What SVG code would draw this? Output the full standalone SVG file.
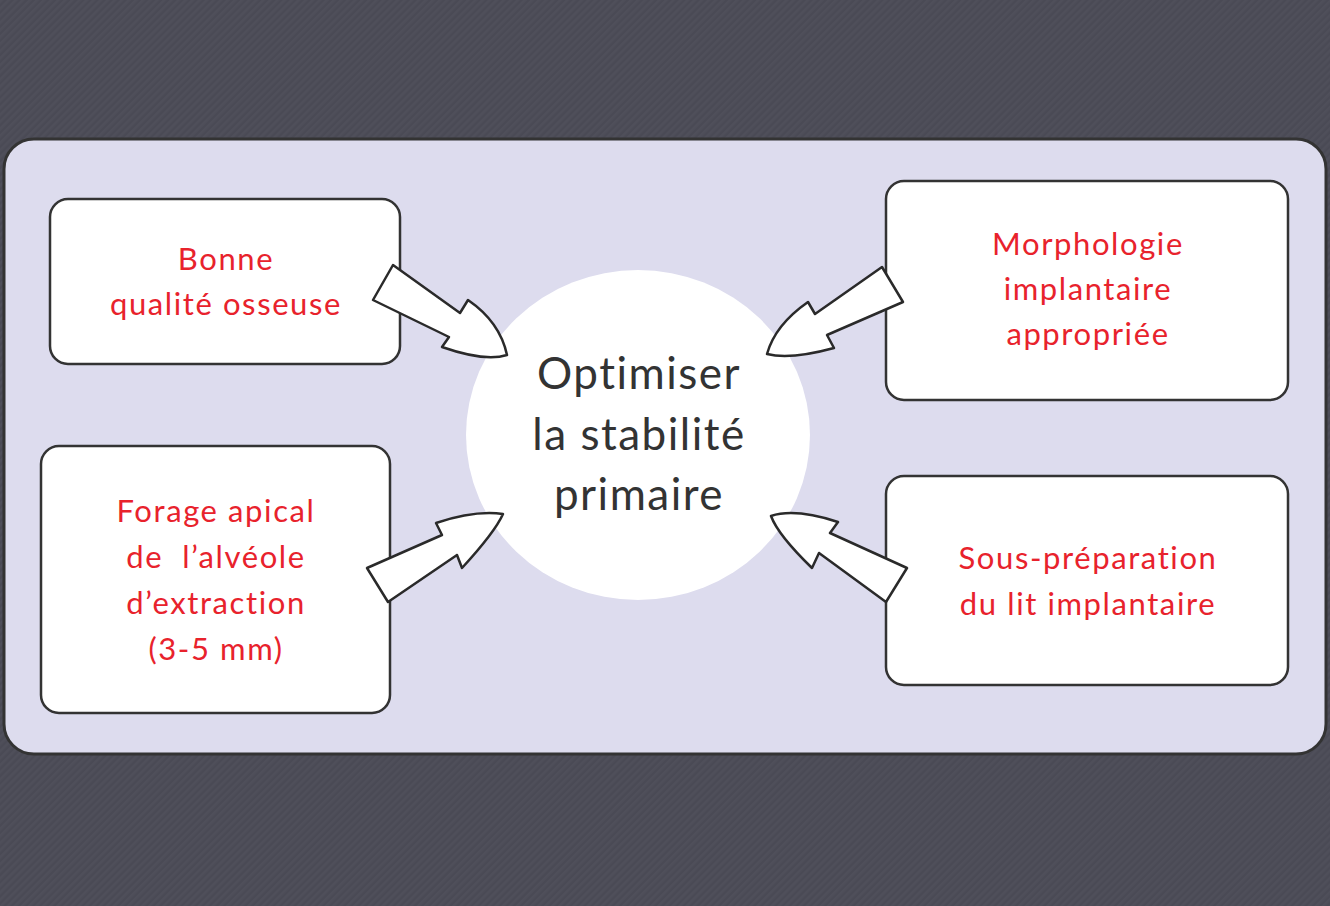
<svg xmlns="http://www.w3.org/2000/svg" width="1330" height="906" viewBox="0 0 1330 906">
<defs>
<pattern id="tex" width="5" height="5" patternUnits="userSpaceOnUse" patternTransform="rotate(45)">
<rect width="5" height="5" fill="#4a4a55"/>
<rect width="2.5" height="5" fill="#4f4f5a"/>
</pattern>
<style>
.box{fill:#ffffff;stroke:#333333;stroke-width:2.5}
.lbl{font-family:Lato,"Open Sans",sans-serif;font-size:31px;fill:#e8222c;text-anchor:middle;letter-spacing:1.6px}
.ctr{font-family:Lato,"Open Sans",sans-serif;font-size:44px;fill:#333333;text-anchor:middle;letter-spacing:1.5px}
.arr{fill:#ffffff;stroke:#2a2a2a;stroke-width:2.5;stroke-linejoin:round}
</style>
</defs>
<rect width="1330" height="906" fill="url(#tex)"/>
<rect x="4" y="139" width="1322" height="615" rx="30" fill="#dddcee" stroke="#333333" stroke-width="3"/>
<g id="center">
<ellipse cx="638" cy="435" rx="172" ry="165" fill="#ffffff"/>
<text class="ctr" x="639" y="389">Optimiser</text>
<text class="ctr" x="639" y="450">la stabilité</text>
<text class="ctr" x="639" y="510">primaire</text>
</g>
<g id="n1">
<rect class="box" x="50" y="199" width="350" height="165" rx="18"/>
<text class="lbl" x="226" y="270">Bonne</text>
<text class="lbl" x="226" y="315">qualité osseuse</text>
</g>
<g id="n2">
<rect class="box" x="886" y="181" width="402" height="219" rx="18"/>
<text class="lbl" x="1088" y="255">Morphologie</text>
<text class="lbl" x="1088" y="300">implantaire</text>
<text class="lbl" x="1088" y="345">appropriée</text>
</g>
<g id="n3">
<rect class="box" x="41" y="446" width="349" height="267" rx="18"/>
<text class="lbl" x="216" y="522">Forage apical</text>
<text class="lbl" x="216" y="568">de&#160; l’alvéole</text>
<text class="lbl" x="216" y="614">d’extraction</text>
<text class="lbl" x="216" y="660">(3-5 mm)</text>
</g>
<g id="n4">
<rect class="box" x="886" y="476" width="402" height="209" rx="18"/>
<text class="lbl" x="1088" y="569">Sous-préparation</text>
<text class="lbl" x="1088" y="615">du lit implantaire</text>
</g>
<g id="connectors">
<path class="arr" d="M393,265 L460,313 L468,300 Q500,322 507,355 Q485,362 442,347 L449,337 L373,300 Z"/>
<path class="arr" d="M882,267 L815,314 L808,302 Q775,325 767,354 Q790,360 834,348 L827,335 L903,302 Z"/>
<path class="arr" d="M367,568 L442,535 L436,523 Q475,510 503,514 Q495,532 462,568 L457,555 L388,602 Z"/>
<path class="arr" d="M907,568 L830,533 L838,522 Q795,508 771,516 Q778,535 812,568 L819,553 L886,602 Z"/>
</g>
</svg>
